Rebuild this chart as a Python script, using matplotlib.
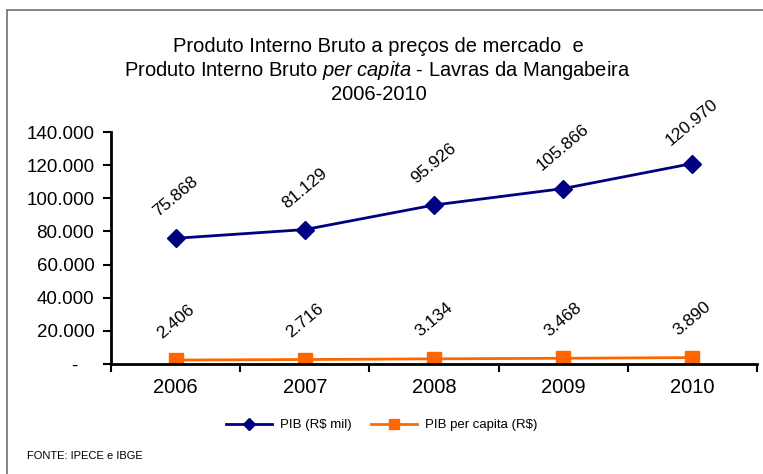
import matplotlib.pyplot as plt
from matplotlib.patches import Rectangle

plt.rcParams['font.family'] = ['Liberation Sans', 'DejaVu Sans']
plt.rcParams['mathtext.fontset'] = 'custom'
plt.rcParams['mathtext.rm'] = 'Liberation Sans'
plt.rcParams['mathtext.it'] = 'Liberation Sans:italic'

# Data
anos = ['2006', '2007', '2008', '2009', '2010']
pib_mil = [75868, 81129, 95926, 105866, 120970]
pib_per_capita = [2406, 2716, 3134, 3468, 3890]
pib_labels = ['75.868', '81.129', '95.926', '105.866', '120.970']
per_capita_labels = ['2.406', '2.716', '3.134', '3.468', '3.890']
yticks = [0, 20000, 40000, 60000, 80000, 100000, 120000, 140000]
ytick_labels = ['-   ', '20.000', '40.000', '60.000', '80.000', '100.000', '120.000', '140.000']

fig = plt.figure(figsize=(7.63, 4.74), dpi=100)
ax = fig.add_axes([0.1455, 0.232, 0.8465, 0.4895])

# outer frame (cut off at right/bottom)
fig.patches.append(Rectangle((7 / 763, -0.1), 1.2, 1.1 - 10 / 474,
                             transform=fig.transFigure, fill=False,
                             edgecolor='#707070', linewidth=1.2))

x = list(range(len(anos)))
ax.plot(x, pib_mil, color='#000080', linewidth=2, marker='D', markersize=9,
        label='PIB (R$ mil)')
ax.plot(x, pib_per_capita, color='#FF6600', linewidth=2, marker='s', markersize=10,
        label='PIB per capita (R$)')

for xi, v, t in zip(x, pib_mil, pib_labels):
    ax.annotate(t, (xi, v), xytext=(0, 30), textcoords='offset points',
                ha='center', va='center', rotation=40, fontsize=12.5)
for xi, v, t in zip(x, pib_per_capita, per_capita_labels):
    ax.annotate(t, (xi, v), xytext=(0, 28), textcoords='offset points',
                ha='center', va='center', rotation=40, fontsize=12.5)

ax.set_xlim(-0.5, 4.5)
ax.set_ylim(0, 140000)
ax.set_yticks(yticks)
ax.set_yticklabels(ytick_labels, fontsize=13.5)
ax.set_xticks([i - 0.5 for i in range(len(anos) + 1)])
ax.set_xticklabels([])
ax.set_xticks(x, minor=True)
ax.set_xticklabels(anos, minor=True, fontsize=14.5)
ax.tick_params(axis='x', which='major', direction='out', length=6, width=1.5)
ax.tick_params(axis='x', which='minor', length=0, pad=10)
ax.tick_params(axis='y', direction='out', length=6, width=1.5, pad=6)

for s in ['top', 'right']:
    ax.spines[s].set_visible(False)
for s in ['left', 'bottom']:
    ax.spines[s].set_linewidth(2)
ax.spines['left'].set_zorder(0)

# title
fig.text(0.496, 1 - 47 / 474, 'Produto Interno Bruto a preços de mercado  e',
         ha='center', va='center', fontsize=14.5)
fig.text(0.494, 1 - 71 / 474,
         r'Produto Interno Bruto $\it{per\ capita}$ - Lavras da Mangabeira',
         ha='center', va='center', fontsize=14.5)
fig.text(0.496, 1 - 95 / 474, '2006-2010', ha='center', va='center', fontsize=14.5)

fig.legend(loc='center', bbox_to_anchor=(0.5, 1 - 425 / 474), ncol=2,
           frameon=False, fontsize=9.5, handlelength=3.5, columnspacing=1.5,
           handletextpad=0.6, markerscale=0.7)

fig.text(27 / 763, 1 - 456 / 474, 'FONTE: IPECE e IBGE', ha='left', va='center',
         fontsize=8)

fig.savefig('out.png', dpi=100)
